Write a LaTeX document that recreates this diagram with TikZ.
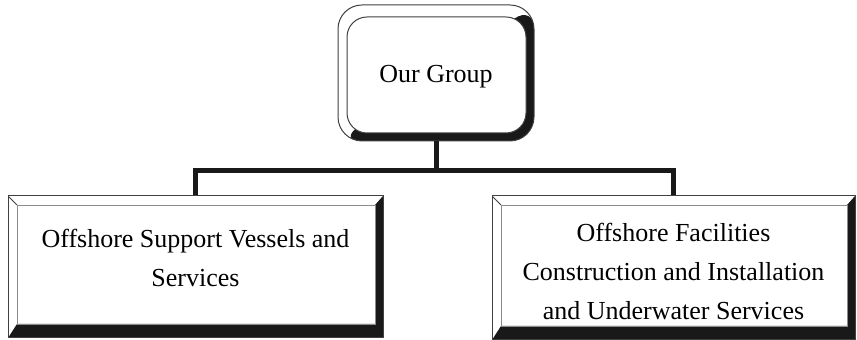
\documentclass[tikz,border=0pt]{standalone}
\usepackage{fontspec}
\setmainfont{Liberation Serif}
\usetikzlibrary{calc}
\tikzset{
  unit/.style={draw=black!75, line width=0.5pt, fill=white, inner sep=0pt,
    path picture={
      \coordinate (bsw) at (path picture bounding box.south west);
      \coordinate (bse) at (path picture bounding box.south east);
      \coordinate (bne) at (path picture bounding box.north east);
      \coordinate (bnw) at (path picture bounding box.north west);
      \fill[black!90] (bsw) -- (bse) -- (bne) -- ($(bne)+(-4pt,-4.5pt)$)
        -- ($(bse)+(-4pt,7pt)$) -- ($(bsw)+(4.5pt,7pt)$) -- cycle;
      \draw[black!45, line width=0.4pt] ($(bsw)+(4.5pt,7pt)$) rectangle ($(bne)+(-4pt,-4.5pt)$);
      \draw[black!75, line width=0.5pt] (bnw) -- ++(4.5pt,-4.5pt);
    }},
  head/.style={draw=black!75, line width=0.5pt, fill=white, rounded corners=12pt,
    inner sep=0pt,
    path picture={
      \fill[black!90] (path picture bounding box.north east) -- (path picture bounding box.south east)
        -- (path picture bounding box.south west) -- cycle;
      \filldraw[fill=white, draw=black!75, line width=0.5pt, rounded corners=10pt]
        ($(path picture bounding box.south west)+(4.5pt,4pt)$)
        rectangle ($(path picture bounding box.north east)+(-4pt,-6pt)$);
    }},
  txt/.style={align=center, inner sep=0pt, font=\fontsize{13}{19.5}\selectfont},
  link/.style={line width=2.5pt, black!90}
}
\begin{document}
\begin{tikzpicture}[x=0.5pt,y=-0.5pt]
\useasboundingbox (0,0) rectangle (857,340);
\node[head, minimum width=98pt, minimum height=68pt] (grp) at (436,73) {};
\node[unit, minimum width=187.5pt, minimum height=71pt] (ovs) at (195.5,267) {};
\node[unit, minimum width=181.5pt, minimum height=72pt] (ofc) at (673.5,268) {};
\node[txt] (grptext) at ([yshift=-2pt]grp.center) {Our Group};
\node[txt] (ovstext) at ([yshift=4.5pt]ovs.center) {Offshore Support Vessels and\\Services};
\node[txt] (ofctext) at ([yshift=-1.5pt]ofc.center)
  {Offshore Facilities\\Construction and Installation\\and Underwater Services};
\coordinate (bus) at (436,171);
\draw[link] (grp.south) -- (bus);
\draw[link] (ovs.north) |- (bus) -| (ofc.north);
\end{tikzpicture}
\end{document}
